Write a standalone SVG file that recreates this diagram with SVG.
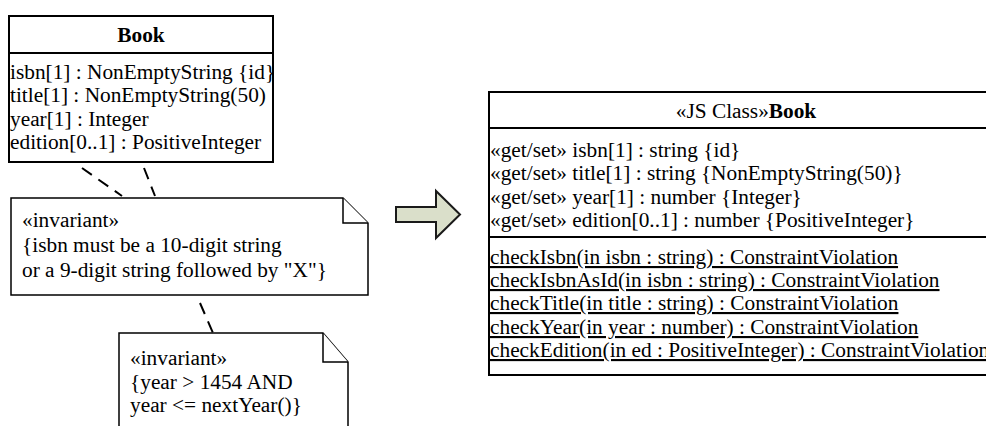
<svg xmlns="http://www.w3.org/2000/svg" width="986" height="426" viewBox="0 0 986 426">
<style>
text{font-family:"Liberation Serif","Times New Roman",serif;font-size:21.33px;fill:#000}
.b{font-weight:bold}
.u{text-decoration:underline}
.box{fill:#fff;stroke:#000;stroke-width:2}
.sep{stroke:#000;stroke-width:2}
.note{fill:#fff;stroke:#000;stroke-width:1.5}
.dash{stroke:#000;stroke-width:2;stroke-dasharray:12 8;fill:none}
</style>
<g id="connectors">
<line class="dash" x1="82" y1="168" x2="122" y2="196"/>
<line class="dash" x1="144" y1="168" x2="155" y2="196"/>
<line class="dash" x1="200" y1="303" x2="213" y2="333"/>
</g>
<g id="book">
<rect class="box" x="9" y="16" width="264" height="146"/>
<line class="sep" x1="9" y1="53" x2="273" y2="53"/>
<text class="b" x="141" y="42" text-anchor="middle">Book</text>
<text x="10" y="79">isbn[1] : NonEmptyString {id}</text>
<text x="10" y="102">title[1] : NonEmptyString(50)</text>
<text x="10" y="126">year[1] : Integer</text>
<text x="10" y="149">edition[0..1] : PositiveInteger</text>
</g>
<g id="note1">
<path class="note" d="M11,198 H343 L368,223 V295 H11 Z"/>
<path class="note" d="M343,198 V223 H368"/>
<text x="22" y="227">«invariant»</text>
<text x="22" y="252">{isbn must be a 10-digit string</text>
<text x="22" y="277">or a 9-digit string followed by "X"}</text>
</g>
<g id="note2">
<path class="note" d="M119,333 H323 L348,362 V430 H119 Z"/>
<path class="note" d="M323,333 V362 H348"/>
<text x="130" y="365">«invariant»</text>
<text x="130" y="389">{year &gt; 1454 AND</text>
<text x="130" y="412">year &lt;= nextYear()}</text>
</g>
<g id="arrow">
<path d="M396,207 H436 V191 L460,214.5 L436,238 V222 H396 Z" fill="#dadfca" stroke="#1a1a1a" stroke-width="2" stroke-linejoin="miter"/>
</g>
<g id="jsbook">
<rect class="box" x="489" y="92" width="520" height="283"/>
<line class="sep" x1="489" y1="128" x2="1009" y2="128"/>
<line class="sep" x1="489" y1="237" x2="1009" y2="237"/>
<text x="746" y="118" text-anchor="middle">«JS Class»<tspan class="b">Book</tspan></text>
<text x="490" y="157">«get/set» isbn[1] : string {id}</text>
<text x="490" y="180">«get/set» title[1] : string {NonEmptyString(50)}</text>
<text x="490" y="204">«get/set» year[1] : number {Integer}</text>
<text x="490" y="227">«get/set» edition[0..1] : number {PositiveInteger}</text>
<text class="u" x="490" y="264">checkIsbn(in isbn : string) : ConstraintViolation</text>
<text class="u" x="490" y="287">checkIsbnAsId(in isbn : string) : ConstraintViolation</text>
<text class="u" x="490" y="310">checkTitle(in title : string) : ConstraintViolation</text>
<text class="u" x="490" y="334">checkYear(in year : number) : ConstraintViolation</text>
<text class="u" x="490" y="357">checkEdition(in ed : PositiveInteger) : ConstraintViolation</text>
</g>
</svg>
